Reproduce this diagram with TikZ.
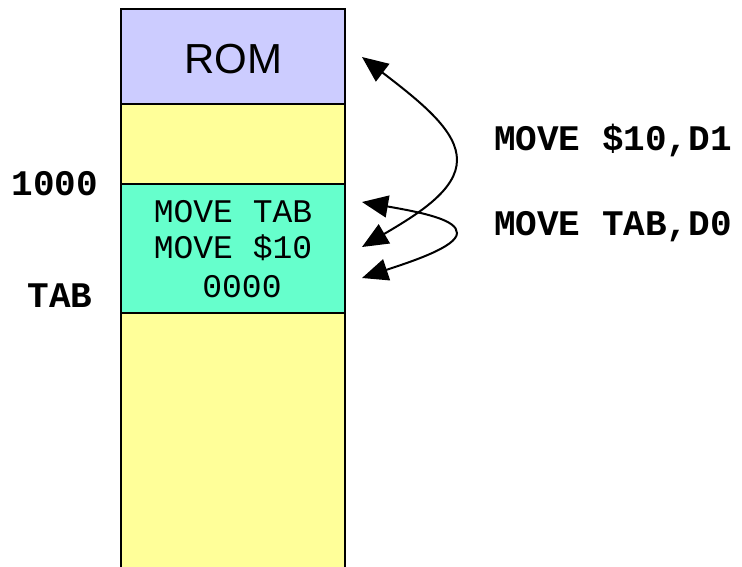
\documentclass[tikz,border=0pt]{standalone}
\usepackage{fontspec}
\setmainfont{Liberation Sans}
\newfontfamily\codefont{Liberation Mono}
\usetikzlibrary{arrows.meta}
\definecolor{romfill}{RGB}{204,204,255}
\definecolor{ramfill}{RGB}{255,255,153}
\definecolor{progfill}{RGB}{102,255,204}
\tikzset{
  memblock/.style={draw=black, line width=2pt, minimum width=224pt, inner sep=0pt, outer sep=0pt},
  codeline/.style={font=\codefont\fontsize{33}{36}\selectfont, anchor=base, inner sep=0pt},
  addrlabel/.style={font=\codefont\bfseries\fontsize{36}{40}\selectfont, anchor=base, inner sep=0pt},
  link/.style={line width=2pt, {Triangle[length=26pt,width=22pt]}-{Triangle[length=26pt,width=22pt]}}
}
\begin{document}
\begin{tikzpicture}[x=1pt,y=-1pt]
  \useasboundingbox (0,0) rectangle (742,566);
  % memory map column
  \node[memblock, fill=ramfill, minimum height=257pt] (ramlow) at (233,441.5) {};
  \node[memblock, fill=ramfill, minimum height=80pt] (ramhigh) at (233,144) {};
  \node[memblock, fill=romfill, minimum height=95pt] (rom) at (233,56.5) {};
  \node[memblock, fill=progfill, minimum height=129pt] (prog) at (233,248.5) {};
  \node[font=\fontsize{42}{46}\selectfont, anchor=base, inner sep=0pt] (romtxt) at (233,73) {ROM};
  % program contents
  \node[codeline] (l1) at (233,222) {MOVE TAB};
  \node[codeline] (l2) at (233,258) {MOVE \$10};
  \node[codeline] (l3) at (242,297) {0000};
  % address labels
  \node[addrlabel] (a1000) at (55,195) {1000};
  \node[addrlabel] (atab) at (60,307) {TAB};
  % instruction labels
  \node[addrlabel] (i1) at (613,150) {MOVE \$10,D1};
  \node[addrlabel] (i2) at (613,235) {MOVE TAB,D0};
  % arrow end points beside the column and the turning points of the loops
  \coordinate (p1) at (362,57);
  \coordinate (pturn) at (457,160);
  \coordinate (p2) at (362,247);
  \coordinate (q1) at (362,202);
  \coordinate (qturn) at (457,233);
  \coordinate (q2) at (362,278);
  \draw[link] (p1) .. controls (425,105) and (457,132) .. (pturn)
                   .. controls (457,190) and (418,214) .. (p2);
  \draw[link] (q1) .. controls (425,213) and (457,220) .. (qturn)
                   .. controls (457,247) and (410,262) .. (q2);
\end{tikzpicture}
\end{document}
